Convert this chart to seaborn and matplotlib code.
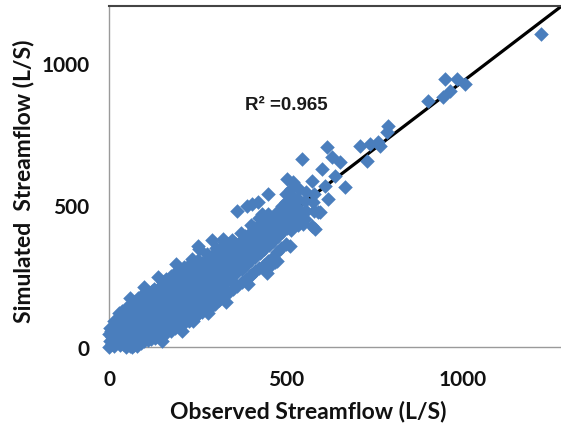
import numpy as np
import pandas as pd
import matplotlib
matplotlib.use("Agg")
import matplotlib.pyplot as plt
import seaborn as sns

# Observed vs simulated streamflow (L/S) – dense low-flow cloud
obs_core = [0, 2, 0, 3,
            15, 14, 17, 15, 13,
            30, 32, 29, 31, 33, 28,
            48, 52, 50, 49, 51, 53, 47, 65, 80,
            70, 72, 69, 71, 68, 72, 70,
            90, 92, 88, 91, 93, 89, 90, 92,
            110, 108, 112, 110, 109, 113, 110, 107,
            130, 132, 128, 131, 129, 133, 130, 128,
            150, 152, 148, 151, 149, 153, 150, 147, 152,
            175, 173, 177, 175, 172, 178, 175, 173, 176,
            200, 202, 198, 201, 200, 203, 199, 201, 198,
            225, 223, 227, 225, 222, 228, 225, 223, 226,
            250, 252, 248, 251, 249, 253, 250, 247, 252,
            275, 273, 277, 275, 272, 278, 275, 273, 276,
            300, 302, 298, 301, 299, 303, 300, 297, 302,
            325, 323, 327, 325, 322, 328, 325, 323, 326,
            350, 352, 348, 351, 349, 353, 350, 347,
            375, 377, 375, 372, 378, 375, 373,
            400, 402, 398, 401, 399, 403, 400,
            425, 427, 425, 422, 428, 425, 423,
            450, 452, 448, 451, 449, 450,
            475, 477, 475, 472, 478,
            500, 502, 498, 501, 499, 500]
sim_core = [0, 22, 45, 68,
            2, 24, 47, 72, 92,
            6, 30, 54, 79, 102, 118,
            0, 22, 46, 70, 95, 120, 138, 0, 4,
            8, 34, 60, 86, 110, 134, 158,
            14, 40, 64, 90, 116, 140, 164, 182,
            24, 50, 76, 100, 126, 150, 174, 194,
            30, 56, 80, 106, 130, 156, 180, 204,
            42, 66, 92, 116, 140, 166, 190, 214, 228,
            56, 80, 106, 130, 156, 180, 206, 230, 250,
            76, 100, 126, 150, 176, 200, 226, 250, 272,
            92, 116, 140, 166, 190, 216, 240, 266, 288,
            112, 136, 160, 186, 210, 236, 260, 284, 306,
            132, 156, 180, 206, 230, 256, 280, 304, 326,
            152, 176, 200, 226, 250, 276, 300, 328, 348,
            178, 202, 226, 252, 276, 300, 326, 350, 368,
            204, 226, 250, 276, 300, 326, 350, 378,
            228, 276, 300, 326, 350, 376, 400,
            254, 306, 330, 356, 380, 408, 430,
            278, 330, 356, 380, 406, 430, 454,
            304, 360, 386, 410, 440, 468,
            334, 390, 420, 450, 480,
            362, 420, 450, 480, 510, 538]

# In-between low-flow observations
obs_fill = [8, 9, 7,
            40, 41, 39, 40, 42, 38,
            60, 61, 59, 60, 62, 58, 60,
            80, 81, 79, 80, 82, 78, 80, 81,
            100, 101, 99, 100, 102, 98, 100, 101,
            120, 121, 119, 120, 122, 118, 120, 121,
            140, 141, 139, 140, 142, 138, 140, 141,
            162, 163, 161, 162, 164, 160, 162, 163, 161,
            187, 188, 186, 187, 189, 185, 187, 188, 186,
            212, 213, 211, 212, 214, 210, 212, 213, 211,
            237, 238, 236, 237, 239, 235, 237, 238, 236,
            262, 263, 261, 262, 264, 260, 262, 263,
            287, 288, 286, 287, 289, 285, 287, 288,
            312, 313, 311, 312, 314, 310, 312,
            337, 338, 336, 337, 339, 335, 337,
            362, 363, 361, 362, 364, 360,
            387, 388, 386, 387, 389, 385,
            412, 413, 411, 412, 414, 410,
            437, 438, 436, 437, 439,
            462, 463, 461, 462, 464,
            487, 488, 486, 487, 489]
sim_fill = [12, 35, 58,
            10, 35, 60, 85, 110, 128,
            5, 28, 52, 78, 102, 126, 148,
            12, 38, 62, 88, 112, 136, 160, 172,
            20, 45, 70, 95, 120, 145, 170, 188,
            28, 52, 78, 102, 128, 152, 176, 198,
            36, 60, 86, 110, 135, 160, 185, 208,
            48, 72, 98, 122, 148, 172, 198, 222, 240,
            66, 90, 115, 140, 166, 190, 215, 240, 260,
            84, 108, 132, 158, 182, 208, 232, 258, 280,
            100, 126, 150, 175, 200, 226, 250, 275, 298,
            122, 146, 170, 196, 220, 246, 270, 295,
            142, 166, 190, 216, 240, 266, 290, 316,
            164, 212, 238, 262, 288, 312, 340,
            190, 238, 262, 288, 312, 338, 364,
            216, 264, 288, 314, 338, 364,
            240, 290, 316, 340, 366, 392,
            266, 318, 342, 368, 394, 420,
            290, 344, 370, 396, 422,
            318, 374, 402, 430, 458,
            348, 406, 436, 466, 496]

# Upper end of the dense band
obs_band = [515, 516, 514, 515, 517, 513,
            535, 536, 534, 535, 537,
            555, 556, 554, 557,
            578, 576, 580]
sim_band = [410, 440, 470, 500, 530, 555,
            430, 460, 490, 520, 555,
            450, 480, 515, 545,
            480, 510, 540]

# Ragged edges of the cloud
obs_edge = [60, 100, 138, 190, 255, 290, 150, 205, 280, 330, 392, 445, 470]
sim_edge = [172, 212, 246, 292, 345, 375, 22, 58, 118, 160, 222, 262, 300]

# Scattered higher flows
obs_high = [237, 223, 398, 455, 475, 511, 548, 582, 596,
            449, 362, 390, 322, 251, 234, 404, 421, 432, 503, 520, 545,
            573, 616, 630, 653, 602, 638, 667, 610, 619, 590, 573, 531,
            709, 737, 760, 729, 788, 785, 766,
            949, 983, 1006, 944, 963, 901, 1220]
sim_high = [92, 116, 250, 285, 303, 356, 433, 415, 475,
            539, 479, 496, 380, 356, 310, 504, 511, 468, 592, 581, 662,
            585, 704, 669, 651, 627, 602, 563, 567, 521, 475, 426, 521,
            708, 715, 722, 655, 778, 757, 708,
            944, 944, 926, 880, 901, 866, 1102]

# Linear trendline and its fit statistic
trend_slope = 0.95
trend_intercept = -15.0
r_squared = 0.965

x_ticks = [0, 500, 1000]
y_ticks = [0, 500, 1000]

df = pd.DataFrame({
    "observed": obs_core + obs_fill + obs_band + obs_edge + obs_high,
    "simulated": sim_core + sim_fill + sim_band + sim_edge + sim_high,
})

sns.set_theme(style="white")
plt.rcParams["font.family"] = ["Lato", "DejaVu Sans"]

fig = plt.figure(figsize=(5.61, 4.27), dpi=100)
ax = fig.add_axes([109 / 561, 79 / 427, 452 / 561, 341 / 427])

xmax, ymax = 1277, 1200
ax.set_xlim(0, xmax)
ax.set_ylim(0, ymax)

line_x = np.array([0, xmax])
sns.lineplot(x=line_x, y=trend_slope * line_x + trend_intercept, color="black",
             linewidth=2.3, ax=ax, zorder=2)

sns.scatterplot(data=df, x="observed", y="simulated", marker="D", s=55,
                color="#4A7EBD", linewidth=0, ax=ax, clip_on=False, zorder=3)

ax.text(384, 852, f"R\u00b2 ={r_squared:.3f}",
        family="Liberation Sans", fontweight="bold", fontsize=13.5,
        ha="left", va="center", color="#1a1a1a")

ax.set_xticks(x_ticks)
ax.set_yticks(y_ticks)
ax.tick_params(axis="both", length=0, labelsize=15, colors="#111111")
ax.tick_params(axis="x", pad=16)
ax.tick_params(axis="y", pad=14)
for lab in ax.get_xticklabels() + ax.get_yticklabels():
    lab.set_fontweight("bold")

ax.set_xlabel("Observed Streamflow (L/S)", fontsize=16.5, fontweight="bold", color="#111111")
ax.set_ylabel("Simulated  Streamflow (L/S)", fontsize=16.5, fontweight="bold", color="#111111")
ax.xaxis.set_label_coords(0.44, -0.155)
ax.yaxis.set_label_coords(-0.165, 0.49)

for side in ("left", "bottom"):
    ax.spines[side].set_color("#9a9a9a")
    ax.spines[side].set_linewidth(1.0)
ax.spines["top"].set_color("#444444")
ax.spines["top"].set_linewidth(1.5)
ax.spines["right"].set_visible(False)
ax.grid(False)

fig.savefig("out.png", dpi=100)
